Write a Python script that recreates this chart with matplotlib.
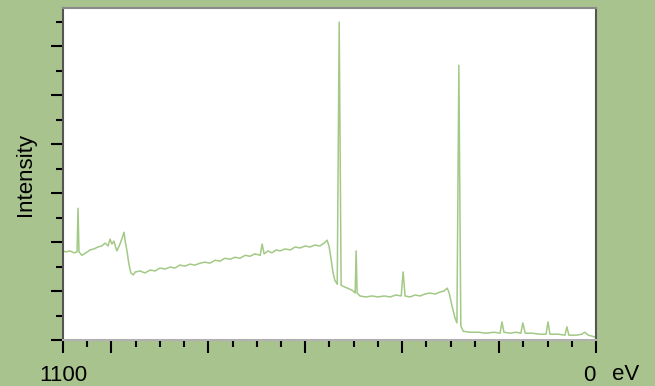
import matplotlib
matplotlib.use("Agg")
import matplotlib.pyplot as plt
import matplotlib.transforms as mtransforms
from matplotlib.ticker import FixedLocator, MultipleLocator

plt.rcParams["font.family"] = ["Liberation Sans", "DejaVu Sans"]

# survey spectrum: binding energy (eV) and intensity (arb. units)
energy = [1100, 1094, 1086, 1077, 1071, 1069, 1067, 1061, 1053, 1044, 1036, 1028,
          1020, 1013, 1007, 1003, 999, 995, 989, 984, 978, 974, 972, 968, 964, 960,
          955, 951, 941, 931, 920, 910, 900, 889, 879, 869, 859, 848, 838, 828, 817,
          807, 797, 786, 776, 766, 755, 745, 735, 724, 714, 704, 693, 689, 685, 677,
          669, 660, 652, 642, 631, 621, 611, 600, 590, 580, 570, 561, 555, 551, 547,
          543, 539, 534, 530, 526, 518, 508, 501, 497, 495, 493, 487, 475, 462, 450,
          437, 425, 413, 402, 398, 394, 384, 373, 363, 353, 343, 332, 322, 314, 307,
          303, 297, 291, 287, 283, 279, 274, 260, 243, 227, 210, 198, 194, 190, 177,
          165, 155, 151, 146, 132, 115, 103, 99, 95, 78, 64, 60, 56, 41, 29, 23, 16,
          8, 2, 0]
intensity = [1.82, 1.80, 1.82, 1.78, 1.80, 2.69, 1.80, 1.73, 1.78, 1.84, 1.86, 1.90,
             1.92, 1.98, 1.92, 2.06, 1.96, 2.02, 1.82, 1.92, 2.08, 2.20, 2.04, 1.82,
             1.55, 1.37, 1.33, 1.39, 1.41, 1.37, 1.43, 1.41, 1.47, 1.45, 1.49, 1.47,
             1.53, 1.51, 1.55, 1.53, 1.57, 1.59, 1.57, 1.63, 1.61, 1.67, 1.65, 1.69,
             1.67, 1.73, 1.71, 1.76, 1.73, 1.96, 1.76, 1.82, 1.78, 1.84, 1.82, 1.86,
             1.84, 1.90, 1.88, 1.92, 1.90, 1.94, 1.92, 1.98, 2.04, 1.92, 1.67, 1.39,
             1.22, 1.14, 6.49, 1.12, 1.08, 1.04, 1.00, 0.96, 1.82, 0.96, 0.90, 0.88,
             0.90, 0.88, 0.90, 0.88, 0.92, 0.90, 1.39, 0.90, 0.88, 0.92, 0.90, 0.94,
             0.96, 0.94, 0.98, 1.00, 1.06, 0.96, 0.69, 0.45, 0.35, 5.61, 0.29, 0.18,
             0.16, 0.16, 0.14, 0.16, 0.14, 0.37, 0.16, 0.14, 0.16, 0.14, 0.35, 0.14,
             0.14, 0.12, 0.12, 0.37, 0.12, 0.12, 0.10, 0.27, 0.10, 0.10, 0.12, 0.16,
             0.10, 0.08, 0.06, 0.06]

x_major = [1100, 1000, 800, 600, 400, 200, 0]
x_labels = ["1100", "", "", "", "", "", "0"]

bg = "#a9c38f"
fig = plt.figure(figsize=(6.55, 3.86), dpi=100, facecolor=bg)
ax = fig.add_axes([0.0962, 0.119, 0.8137, 0.860])
ax.set_facecolor("white")

ax.plot(energy, intensity, color="#a2c985", lw=1.1)

ax.set_xlim(1100, 0)
ax.set_ylim(0, 6.776)

ax.xaxis.set_major_locator(FixedLocator(x_major))
ax.xaxis.set_minor_locator(MultipleLocator(50))
ax.set_xticklabels(x_labels)
ax.yaxis.set_major_locator(MultipleLocator(1))
ax.yaxis.set_minor_locator(MultipleLocator(0.5))
ax.set_yticklabels([])

ax.tick_params(axis="both", which="major", direction="out", length=9, width=1.5,
               color="black", labelsize=16, pad=9)
ax.tick_params(axis="both", which="minor", direction="out", length=5, width=1.5,
               color="black")

# nudge the "0" label a little to the left, away from the unit
shift = mtransforms.ScaledTranslation(-7 / 100, 0, fig.dpi_scale_trans)
last = ax.get_xticklabels()[-1]
last.set_transform(last.get_transform() + shift)

ax.spines["left"].set_color("#555555")
ax.spines["right"].set_color("#555555")
ax.spines["top"].set_color("#8a8a8a")
ax.spines["bottom"].set_color("#b0b0b0")
for s in ax.spines.values():
    s.set_linewidth(1.5)

fig.text(626 / 655, 1 - 374 / 386, "eV", fontsize=16, ha="center", va="center")
fig.text(25 / 655, 1 - 174 / 386, "Intensity", fontsize=16, rotation=90,
         ha="center", va="center")

fig.savefig("out.png", dpi=100, facecolor=bg)
